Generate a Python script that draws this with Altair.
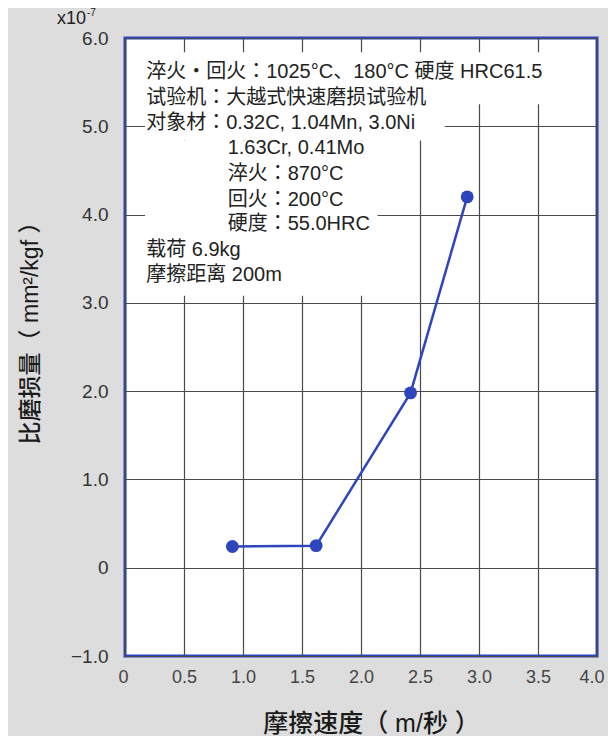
import altair as alt
import pandas as pd

# data
speed = [0.91, 1.62, 2.42, 2.90]
wear = [0.24, 0.25, 1.98, 4.20]

x_ticks = [0, 0.5, 1.0, 1.5, 2.0, 2.5, 3.0, 3.5, 4.0]
y_ticks = [-1, 0, 1, 2, 3, 4, 5, 6]

note_lines = [
    "淬火・回火：1025°C、180°C 硬度 HRC61.5",
    "试验机：大越式快速磨损试验机",
    "对象材：0.32C, 1.04Mn, 3.0Ni",
    "1.63Cr, 0.41Mo",
    "淬火：870°C",
    "回火：200°C",
    "硬度：55.0HRC",
    "载荷 6.9kg",
    "摩擦距离 200m",
]
note_x = [0.18, 0.18, 0.18, 0.87, 0.87, 0.87, 0.87, 0.18, 0.18]
note_y = [5.61, 5.32, 5.04, 4.75, 4.46, 4.17, 3.89, 3.60, 3.31]

# white backing behind the annotation block (data units)
box_x = [0.17, 0.17, 0.17]
box_x2 = [3.64, 2.71, 2.14]
box_y = [5.84, 5.25, 4.84]
box_y2 = [5.25, 4.84, 3.08]

FONT = "Liberation Sans, Noto Sans CJK SC, sans-serif"
NOTE_FONT = "Liberation Sans, Noto Sans CJK JP, sans-serif"
BLUE = "#2f45bd"

pts = pd.DataFrame({"speed": speed, "wear": wear})
notes = pd.DataFrame({"t": note_lines, "x": note_x, "y": note_y})
boxes = pd.DataFrame({"x": box_x, "x2": box_x2, "y": box_y, "y2": box_y2})

xscale = alt.Scale(domain=[0, 4], nice=False, zero=False)
yscale = alt.Scale(domain=[-1, 6], nice=False, zero=False)

xaxis = alt.Axis(
    values=x_ticks,
    labelExpr="datum.value == 0 ? '0' : format(datum.value, '.1f')",
    grid=True, gridColor="#4a4a4a", gridWidth=1.2,
    domain=False, ticks=False,
    labelPadding=12, labelFontSize=18, labelColor="#444444", labelFont=FONT,
    labelFlush=True, labelFlushOffset=7,
    title="摩擦速度（ m/秒 ）", titleFontSize=25, titleFont=FONT,
    titleFontWeight=500, titleColor="#1a1a1a",
    titleX=246, titleY=67, titleBaseline="middle", titleAlign="center",
)
yaxis = alt.Axis(
    values=y_ticks,
    labelExpr="datum.value == 0 ? '0' : format(datum.value, '.1f')",
    grid=True, gridColor="#4a4a4a", gridWidth=1.2,
    domain=False, ticks=False,
    labelPadding=17, labelFontSize=19, labelColor="#333333", labelFont=FONT,
    labelFlush=False,
    title="比磨损量（ mm²/kgf ）", titleFontSize=23, titleFont=FONT,
    titleFontWeight=500, titleColor="#1a1a1a",
    titleX=-95, titleY=289, titleBaseline="middle", titleAlign="center",
    titleAngle=270,
)

base_rect = alt.Chart(boxes).mark_rect(color="white", opacity=1).encode(
    x=alt.X("x:Q", scale=xscale, axis=xaxis),
    x2="x2:Q",
    y=alt.Y("y:Q", scale=yscale, axis=yaxis),
    y2="y2:Q",
)

text_layer = alt.Chart(notes).mark_text(
    align="left", baseline="middle", fontSize=20, font=NOTE_FONT, color="#222222"
).encode(
    x=alt.X("x:Q", scale=xscale),
    y=alt.Y("y:Q", scale=yscale),
    text="t:N",
)

line_layer = alt.Chart(pts).mark_line(color=BLUE, strokeWidth=2.5).encode(
    x=alt.X("speed:Q", scale=xscale),
    y=alt.Y("wear:Q", scale=yscale),
)
point_layer = alt.Chart(pts).mark_circle(color=BLUE, size=165, opacity=1).encode(
    x=alt.X("speed:Q", scale=xscale),
    y=alt.Y("wear:Q", scale=yscale),
)

exp_df = pd.DataFrame({"t": ["x10"]})
exp_main = alt.Chart(exp_df).mark_text(
    align="left", baseline="middle", fontSize=18, font=FONT, color="#222222"
).encode(x=alt.value(-68), y=alt.value(-19), text="t:N")
sup_df = pd.DataFrame({"t": ["-7"]})
exp_sup = alt.Chart(sup_df).mark_text(
    align="left", baseline="middle", fontSize=10, font=FONT, color="#222222"
).encode(x=alt.value(-38), y=alt.value(-25), text="t:N")

chart = alt.layer(
    base_rect, text_layer, line_layer, point_layer, exp_main, exp_sup
).properties(
    width=472, height=618,
    autosize="none",
    padding={"left": 117, "top": 30, "right": 11, "bottom": 80},
    background="#dddddd",
).configure_view(
    stroke="#2b45c0", strokeWidth=3, fill="white"
)

chart.save("out.html", embed_options={"renderer": "svg", "actions": False})
